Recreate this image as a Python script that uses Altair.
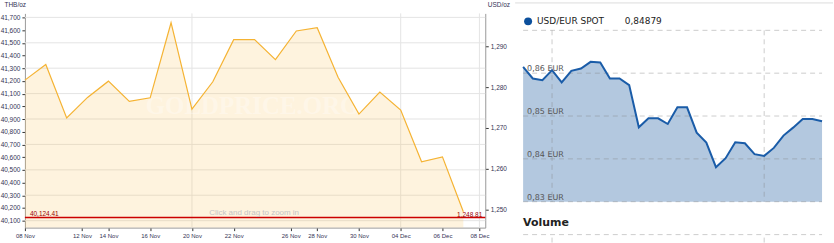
import altair as alt
import pandas as pd

# ---------------- data ----------------
# Gold (THB/oz), one point per trading day
gold_idx = list(range(22))
gold_thb = [41206, 41329, 40908, 41070, 41198, 41039, 41067, 41658, 40978, 41193, 41525,
            41525, 41368, 41593, 41619, 41229, 40939, 41112, 40971, 40563, 40602, 40170]
gold_tick_pos = [0, 2.73, 4, 6, 8, 10, 12.73, 14, 16, 18, 20, 21.77]
gold_tick_lab = ["08 Nov", "12 Nov", "14 Nov", "16 Nov", "20 Nov", "22 Nov", "26 Nov",
                 "28 Nov", "30 Nov", "04 Dec", "06 Dec", "08 Dec"]
gold_vgrid = [8, 18, 21.77]
thb_ticks = list(range(40100, 41701, 100))
thb_grid = list(range(40100, 41701, 200))
usd_ticks = [1250, 1260, 1270, 1280, 1290]
thb_now = 40124.41
usd_now = 1248.81
thb_now_label = "40,124.41"
usd_now_label = "1,248.81"

# USD/EUR spot
fx_vals = [0.86147, 0.85876, 0.85837, 0.86070, 0.85783, 0.86054, 0.86109, 0.86264,
           0.86248, 0.85876, 0.85876, 0.85721, 0.84737, 0.84946, 0.84946, 0.84814,
           0.85202, 0.85202, 0.84612, 0.84380, 0.83806, 0.84016, 0.84388, 0.84364,
           0.84109, 0.84070, 0.84256, 0.84543, 0.84729, 0.84930, 0.84930, 0.84876]
fx_vgrid = [3, 25]
fx_grid = [0.83, 0.84, 0.85, 0.86, 0.87]
fx_lab_vals = [0.83, 0.84, 0.85, 0.86]
fx_lab_text = ["0,83 EUR", "0,84 EUR", "0,85 EUR", "0,86 EUR"]
fx_name = "USD/EUR SPOT"
fx_now_label = "0,84879"

# ---------------- left chart: gold ----------------
W1, H1 = 462, 215
LBL = "#333355"
FONT = "Liberation Sans"

gold_df = pd.DataFrame({"i": gold_idx, "thb": gold_thb})
X1 = alt.Scale(domain=[0, 22.05], nice=False, zero=False)
Y_THB = alt.Scale(domain=[40045.1, 41731.4], nice=False, zero=False)
Y_USD = alt.Scale(domain=[1245.61, 1298.05], nice=False, zero=False)

label_expr = ("[" + ",".join("'%s'" % l for l in gold_tick_lab) + "][indexof(["
              + ",".join(str(p) for p in gold_tick_pos) + "], datum.value)]")

x_axis = alt.Axis(values=gold_tick_pos, labelExpr=label_expr, grid=False,
                  domainColor="#9a9a9a", domainWidth=1, tickColor="#333333",
                  tickSize=3, labelFontSize=6, labelFont=FONT, labelColor=LBL,
                  labelPadding=2, title=None, labelFlush=False, labelOverlap=False)
y_axis_thb = alt.Axis(values=thb_ticks, format=",d", grid=False, domainColor="#9a9a9a",
                      domainWidth=1, tickColor="#333333", tickSize=3, labelFontSize=6.5,
                      labelFont=FONT, labelColor=LBL, labelPadding=2, title="THB/oz",
                      titleAngle=0, titleAlign="left", titleBaseline="middle", titleX=-21,
                      titleY=-9, titleFontSize=6.5, titleFont=FONT, titleFontWeight="normal",
                      titleColor=LBL, labelFlush=False, labelOverlap=False)
y_axis_usd = alt.Axis(values=usd_ticks, format=",d", orient="right", grid=False,
                      domainColor="#9a9a9a", domainWidth=1, tickColor="#333333", tickSize=3,
                      labelFontSize=6.5, labelFont=FONT, labelColor=LBL, labelPadding=2,
                      title="USD/oz", titleAngle=0, titleAlign="left", titleBaseline="middle",
                      titleX=2, titleY=-9, titleFontSize=6.5, titleFont=FONT,
                      titleFontWeight="normal", titleColor=LBL, labelFlush=False)

one = pd.DataFrame({"k": [0]})

bounds_anchor = alt.Chart(one).mark_rule(opacity=0, strokeWidth=0).encode(
    x=alt.value(-23), x2=alt.value(0), y=alt.value(-13))

hgrid = alt.Chart(pd.DataFrame({"thb": thb_grid})).mark_rule(color="#e4e4e4", strokeWidth=1).encode(
    y=alt.Y("thb:Q", scale=Y_THB, axis=y_axis_thb))
vgrid = alt.Chart(pd.DataFrame({"i": gold_vgrid})).mark_rule(color="#e4e4e4", strokeWidth=1).encode(
    x=alt.X("i:Q", scale=X1, axis=x_axis))

area = alt.Chart(gold_df).mark_area(color="#f9c55a", opacity=0.2).encode(
    x=alt.X("i:Q", scale=X1, axis=x_axis),
    y=alt.Y("thb:Q", scale=Y_THB, axis=y_axis_thb),
    y2=alt.datum(40045.1))

watermark = alt.Chart(pd.DataFrame({"t": ["GOLDPRICE.ORG"]})).mark_text(
    font="Liberation Serif", fontSize=25, fontWeight="bold", color="#ffffff", opacity=0.3,
    align="center", baseline="middle").encode(
    text="t:N", x=alt.value(228.5), y=alt.value(92.5))

line = alt.Chart(gold_df).mark_line(color="#f5b333", strokeWidth=1.2).encode(
    x=alt.X("i:Q", scale=X1, axis=x_axis),
    y=alt.Y("thb:Q", scale=Y_THB, axis=y_axis_thb))

red = alt.Chart(pd.DataFrame({"thb": [thb_now]})).mark_rule(color="#cc0000", strokeWidth=1.5).encode(
    y=alt.Y("thb:Q", scale=Y_THB, axis=y_axis_thb), x=alt.value(0), x2=alt.value(W1))

red_lab = alt.Chart(pd.DataFrame({"thb": [thb_now], "t": [thb_now_label]})).mark_text(
    align="left", baseline="middle", fontSize=6.5, font=FONT, color="#990000", dy=-3.5).encode(
    y=alt.Y("thb:Q", scale=Y_THB, axis=y_axis_thb), x=alt.value(5), text="t:N")

click = alt.Chart(pd.DataFrame({"t": ["Click and drag to zoom in"]})).mark_text(
    align="center", baseline="middle", fontSize=8, font=FONT, color="#c4c4c4").encode(
    x=alt.value(230), y=alt.value(200), text="t:N")

thb_group = alt.layer(bounds_anchor, hgrid, vgrid, area, watermark, line, red, red_lab, click)

usd_lab = alt.Chart(pd.DataFrame({"v": [usd_now], "t": [usd_now_label]})).mark_text(
    align="right", baseline="middle", fontSize=6.5, font=FONT, color="#990000").encode(
    y=alt.Y("v:Q", scale=Y_USD, axis=y_axis_usd), x=alt.value(W1 - 3), text="t:N")

left = alt.layer(thb_group, usd_lab).resolve_scale(y="independent").properties(
    width=W1, height=H1)

# ---------------- right chart: USD/EUR ----------------
W2, H2 = 300, 230
RF = "DejaVu Sans"
fx_df = pd.DataFrame({"i": list(range(len(fx_vals))), "v": fx_vals})
X2 = alt.Scale(domain=[0, len(fx_vals) - 1], nice=False, zero=False)
Y_FX = alt.Scale(domain=[0.8204651, 0.8739535], nice=False, zero=False)
DASH = [5, 4]
GRIDC = "#808080"

fx_area = alt.Chart(fx_df).mark_area(color="#b3c8df", opacity=1).encode(
    x=alt.X("i:Q", scale=X2, axis=None),
    y=alt.Y("v:Q", scale=Y_FX, axis=None),
    y2=alt.datum(0.83))

fx_hgrid = alt.Chart(pd.DataFrame({"v": fx_grid})).mark_rule(
    color=GRIDC, opacity=0.4, strokeDash=DASH).encode(
    y=alt.Y("v:Q", scale=Y_FX, axis=None), x=alt.value(0), x2=alt.value(W2))
fx_v1 = alt.Chart(pd.DataFrame({"i": fx_vgrid})).mark_rule(
    color=GRIDC, opacity=0.4, strokeDash=DASH).encode(
    x=alt.X("i:Q", scale=X2, axis=None), y=alt.value(17), y2=alt.value(189))
fx_v2 = alt.Chart(pd.DataFrame({"i": fx_vgrid})).mark_rule(
    color=GRIDC, opacity=0.4, strokeDash=DASH).encode(
    x=alt.X("i:Q", scale=X2, axis=None), y=alt.value(225), y2=alt.value(232))
vol_line = alt.Chart(one).mark_rule(color=GRIDC, opacity=0.4, strokeDash=DASH).encode(
    x=alt.value(0), x2=alt.value(W2), y=alt.value(222))
top_line = alt.Chart(one).mark_rule(color="#dcdcdc", strokeWidth=1).encode(
    x=alt.value(-8), x2=alt.value(311), y=alt.value(-10.5))

fx_labels = alt.Chart(pd.DataFrame({"v": fx_lab_vals, "t": fx_lab_text})).mark_text(
    align="left", baseline="alphabetic", fontSize=8, font=RF, color="#555555", dy=-2).encode(
    y=alt.Y("v:Q", scale=Y_FX, axis=None), x=alt.value(4), text="t:N")

fx_line = alt.Chart(fx_df).mark_line(color="#1a5ca8", strokeWidth=2).encode(
    x=alt.X("i:Q", scale=X2, axis=None),
    y=alt.Y("v:Q", scale=Y_FX, axis=None))

dot = alt.Chart(one).mark_point(shape="circle", filled=True, size=64, color="#0b4f9c", opacity=1).encode(
    x=alt.value(5), y=alt.value(8))
name_txt = alt.Chart(pd.DataFrame({"t": [fx_name]})).mark_text(
    align="left", baseline="middle", fontSize=9, font=RF, color="#222222").encode(
    x=alt.value(14), y=alt.value(8), text="t:N")
val_txt = alt.Chart(pd.DataFrame({"t": [fx_now_label]})).mark_text(
    align="left", baseline="middle", fontSize=9, font=RF, color="#222222").encode(
    x=alt.value(102), y=alt.value(8), text="t:N")
vol_txt = alt.Chart(pd.DataFrame({"t": ["Volume"]})).mark_text(
    align="left", baseline="middle", fontSize=11, font=RF, fontWeight="bold", color="#222222").encode(
    x=alt.value(0), y=alt.value(210), text="t:N")

right = alt.layer(fx_area, fx_hgrid, fx_v1, fx_v2, vol_line, fx_labels, fx_line, top_line, dot,
                  name_txt, val_txt, vol_txt).properties(width=W2, height=H2)

chart = alt.hconcat(left, right, spacing=38).properties(
    bounds="flush", padding=0, background="white").configure_view(strokeWidth=0)

chart.save("out.html", embed_options={"renderer": "svg", "actions": False})
